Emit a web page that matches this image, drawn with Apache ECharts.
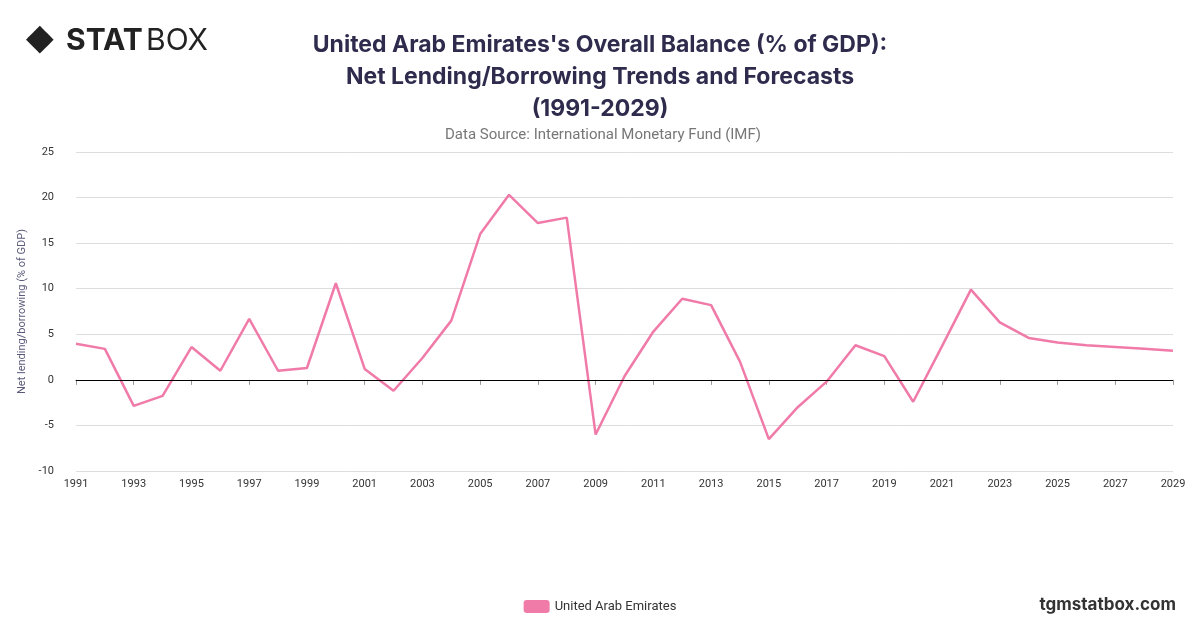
<!DOCTYPE html>
<html>
<head>
<meta charset="utf-8">
<script src="https://cdn.jsdelivr.net/npm/echarts@6/dist/echarts.min.js"></script>
<style>
  html, body { margin: 0; padding: 0; background: #fff; }
  #chart { width: 1200px; height: 628px; }
</style>
</head>
<body>
<div id="chart"></div>
<script>
var years = [];
for (var y = 1991; y <= 2029; y++) years.push(String(y));

var balance = [3.95, 3.4, -2.85, -1.75, 3.6, 1.0, 6.7, 1.0, 1.3, 10.6,
    1.2, -1.2, 2.4, 6.5, 16.0, 20.3, 17.2, 17.8, -6.0, 0.4,
    5.3, 8.9, 8.2, 2.0, -6.5, -3.0, -0.2, 3.8, 2.6, -2.4,
    3.7, 9.9, 6.3, 4.6, 4.1, 3.8, 3.6, 3.4, 3.2];

var chart = echarts.init(document.getElementById('chart'));

var option = {
    backgroundColor: '#fff',
    title: [{
        text: "United Arab Emirates's Overall Balance (% of GDP):\nNet Lending/Borrowing Trends and Forecasts\n(1991-2029)",
        left: 595, top: 24, textAlign: 'center',
        textStyle: { fontFamily: 'Inter', fontSize: 23, fontWeight: 'bold', color: '#2e2b4d', lineHeight: 32 }
    }, {
        text: 'Data Source: International Monetary Fund (IMF)',
        left: 598, top: 123, textAlign: 'center',
        textStyle: { fontFamily: 'Roboto', fontSize: 15, fontWeight: 'normal', color: '#777' }
    }],
    graphic: [{
        type: 'text', left: 26, top: 22,
        style: { text: '◆', font: 'bold 36px DejaVu Sans', fill: '#222' }
    }, {
        type: 'text', left: 66, top: 26,
        style: { text: 'STAT', font: 'bold 30px Inter', fill: '#222' }
    }, {
        type: 'text', left: 146, top: 26,
        style: { text: 'BOX', font: '30px Inter', fill: '#222' }
    }, {
        type: 'text', right: 24, top: 596,
        style: { text: 'tgmstatbox.com', font: 'bold 17px Inter', fill: '#333' }
    }],
    legend: {
        bottom: 10, left: 'center',
        itemWidth: 26, itemHeight: 13,
        icon: 'roundRect',
        textStyle: { fontFamily: 'Roboto', fontSize: 13, color: '#333' },
        data: ['United Arab Emirates']
    },
    grid: { left: 76, right: 27, top: 152, bottom: 157 },
    xAxis: {
        type: 'category',
        data: years,
        boundaryGap: false,
        axisLine: { lineStyle: { color: '#333' } },
        axisTick: { show: true, interval: 1, lineStyle: { color: '#999' } },
        axisLabel: { interval: 1, color: '#333', fontFamily: 'Roboto', fontSize: 11 },
        splitLine: { show: false }
    },
    yAxis: {
        type: 'value',
        min: -10, max: 25, interval: 5,
        name: 'Net lending/borrowing (% of GDP)',
        nameLocation: 'middle', nameGap: 44,
        nameTextStyle: { color: '#5a5a7a', fontFamily: 'Roboto', fontSize: 11 },
        axisLine: { show: false },
        axisTick: { show: false },
        axisLabel: { color: '#333', fontFamily: 'Roboto', fontSize: 11, margin: 22 },
        splitLine: { lineStyle: { color: '#ddd' } }
    },
    series: [{
        name: 'United Arab Emirates',
        type: 'line',
        data: balance,
        symbol: 'none',
        lineStyle: { color: '#f07aa8', width: 2.5 },
        itemStyle: { color: '#f07aa8' },
        markLine: {
            silent: true, symbol: 'none', label: { show: false },
            lineStyle: { color: '#000', width: 1, type: 'solid' },
            data: [{ yAxis: 0 }]
        }
    }]
};

chart.setOption(option);
</script>
</body>
</html>
